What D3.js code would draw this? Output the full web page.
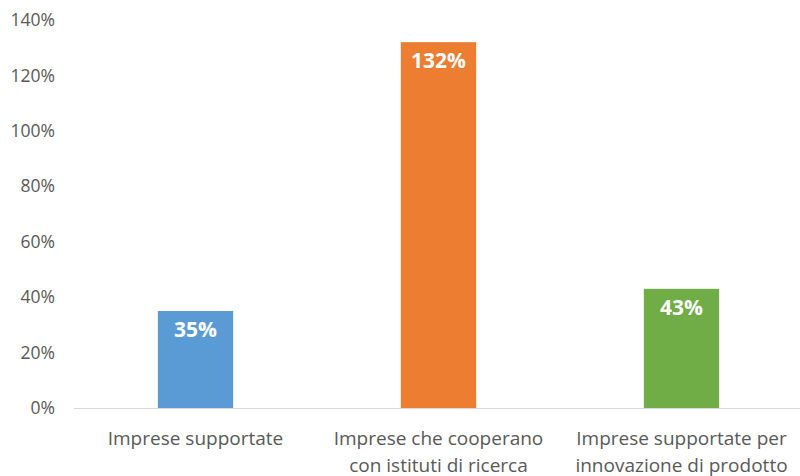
<!DOCTYPE html>
<html>
<head>
<meta charset="utf-8">
<script src="https://cdn.jsdelivr.net/npm/d3@7"></script>
<style>
  body { margin: 0; background: #fff; }
  svg { font-family: "Open Sans", "Noto Sans", sans-serif; }
</style>
</head>
<body>
<svg width="800" height="476"></svg>
<script>
var categories = [
    ["Imprese supportate"],
    ["Imprese che cooperano", "con istituti di ricerca"],
    ["Imprese supportate per", "innovazione di prodotto"]
];
var values = [35, 132, 43];
var colors = ["#5b9bd5", "#ed7d31", "#70ad47"];
var yTicks = [0, 20, 40, 60, 80, 100, 120, 140];

var svg = d3.select("svg");
var plotLeft = 74, plotRight = 803, plotTop = 20, plotBottom = 408;

var x = d3.scaleBand()
    .domain(d3.range(values.length))
    .range([plotLeft, plotRight])
    .paddingInner(0.69)
    .paddingOuter(0.345);

var y = d3.scaleLinear()
    .domain([0, 140])
    .range([plotBottom, plotTop]);

// Y AXIS LABELS
svg.selectAll(".ytick")
    .data(yTicks)
    .enter()
    .append("text")
    .attr("x", 55)
    .attr("y", function(d) { return y(d); })
    .attr("dy", "0.35em")
    .attr("text-anchor", "end")
    .attr("fill", "#595959")
    .style("font-size", "17.5px")
    .text(function(d) { return d + "%"; });

// BARS
svg.selectAll(".bar")
    .data(values)
    .enter()
    .append("rect")
    .attr("x", function(d, i) { return x(i); })
    .attr("width", x.bandwidth())
    .attr("y", function(d) { return y(d); })
    .attr("height", function(d) { return y(0) - y(d); })
    .attr("fill", function(d, i) { return colors[i]; });

// BASELINE
svg.append("line")
    .attr("x1", plotLeft)
    .attr("x2", 800)
    .attr("y1", y(0) + 0.5)
    .attr("y2", y(0) + 0.5)
    .attr("stroke", "#d9d9d9")
    .attr("stroke-width", 1);

// VALUE LABELS
svg.selectAll(".value")
    .data(values)
    .enter()
    .append("text")
    .attr("x", function(d, i) { return x(i) + x.bandwidth() / 2; })
    .attr("y", function(d) { return y(d) + 26; })
    .attr("text-anchor", "middle")
    .attr("fill", "#fff")
    .style("font-size", "21px")
    .style("font-weight", "bold")
    .text(function(d) { return d + "%"; });

// CATEGORY LABELS
var cat = svg.selectAll(".cat")
    .data(categories)
    .enter()
    .append("text")
    .attr("text-anchor", "middle")
    .attr("fill", "#595959")
    .style("font-size", "19px");

cat.selectAll("tspan")
    .data(function(d, i) { return d.map(function(t) { return {t: t, i: i}; }); })
    .enter()
    .append("tspan")
    .attr("x", function(d) { return x(d.i) + x.bandwidth() / 2; })
    .attr("y", function(d, j) { return 445 + j * 27; })
    .text(function(d) { return d.t; });
</script>
</body>
</html>
